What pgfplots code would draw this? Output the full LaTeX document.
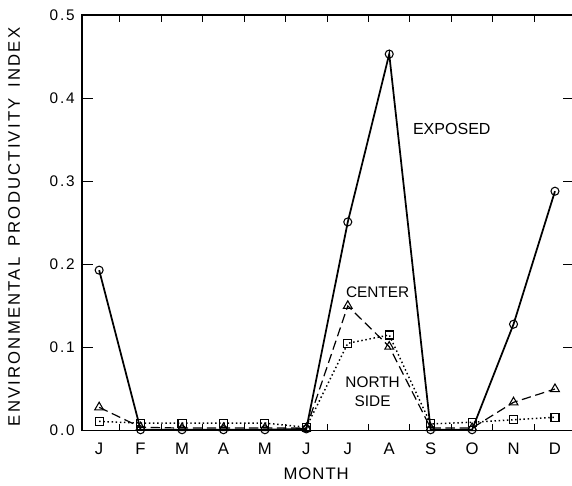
\documentclass[border=0pt]{standalone}
\usepackage{fontspec}
\setmainfont{Liberation Sans}
\newfontfamily\ticksf[LetterSpace=12]{Liberation Sans}
\newfontfamily\labsf[LetterSpace=13,WordSpace=1.6]{Liberation Sans}
\newfontfamily\monsf[LetterSpace=6]{Liberation Sans}
\usepackage{pgfplots}
\pgfplotsset{compat=1.18}

\begin{document}
\begin{tikzpicture}
\begin{axis}[
  scale only axis, width=367.5pt, height=311pt,
  xmin=-0.41, xmax=11.44, ymin=0, ymax=0.5,
  xtick={0,...,11}, xticklabels={J,F,M,A,M,J,J,A,S,O,N,D},
  major x tick style={draw=none},
  minor xtick={0.5,1.5,2.5,3.5,4.5,5.5,6.5,7.5,8.5,9.5,10.5},
  ytick={0,0.1,0.2,0.3,0.4,0.5},
  yticklabel style={/pgf/number format/fixed, /pgf/number format/fixed zerofill,
    /pgf/number format/precision=1, xshift=-2pt},
  /pgf/number format/assume math mode=true,
  tick align=inside,
  major tick length=8pt, minor tick length=5pt,
  tick style={line width=0.8pt, black},
  axis line style={line width=1.2pt},
  ticklabel style={font=\fontsize{11.5}{13}\selectfont\ticksf},
  xticklabel style={yshift=-6pt, font=\fontsize{12.5}{14}\selectfont\ticksf},
  xlabel={MONTH}, ylabel={ENVIRONMENTAL PRODUCTIVITY INDEX},
  ylabel style={at={(axis description cs:-0.1388,0.49)}, anchor=center, font=\fontsize{12.5}{14}\selectfont\labsf},
  xlabel style={at={(axis description cs:0.4765,-0.1049)}, anchor=center, font=\fontsize{12.5}{14}\selectfont\monsf},
  mark size=3pt,
]
% exposed
\addplot[black, line width=1.3pt, mark=o, mark options={solid, fill=white, line width=0.8pt}]
coordinates {(0,0.193) (1,0.001) (2,0.001) (3,0.001) (4,0.001) (5,0.002) (6,0.251) (7,0.453) (8,0.001) (9,0.001) (10,0.128) (11,0.288)};
% center
\addplot[black, line width=0.9pt, dash pattern=on 7pt off 3.5pt, mark=triangle, mark size=3.8pt, mark options={solid, fill=white, line width=0.8pt}]
coordinates {(0,0.028) (1,0.004) (2,0.003) (3,0.003) (4,0.003) (5,0.003) (6,0.150) (7,0.101) (8,0.003) (9,0.003) (10,0.034) (11,0.050)};
% north side
\addplot[black, line width=1.1pt, dotted, mark=square, mark options={solid, fill=white, line width=0.8pt}]
coordinates {(0,0.011) (1,0.009) (2,0.009) (3,0.009) (4,0.009) (5,0.004) (6,0.105) (7,0.115) (8,0.008) (9,0.010) (10,0.013) (11,0.016)};
\node[font=\fontsize{12}{14}\selectfont] at (axis cs:8.51,0.363) {EXPOSED};
\node[font=\fontsize{11.5}{14}\selectfont] at (axis cs:6.72,0.167) {CENTER};
\node[font=\fontsize{11.5}{14}\selectfont, align=center] at (axis cs:6.6,0.047) {NORTH\\SIDE};
\end{axis}
\pgfresetboundingbox
\path[use as bounding box] ([xshift=-61.5pt,yshift=-41.25pt]current axis.south west) rectangle ([xshift=-0.9pt,yshift=11.25pt]current axis.north east);
\end{tikzpicture}
\end{document}
